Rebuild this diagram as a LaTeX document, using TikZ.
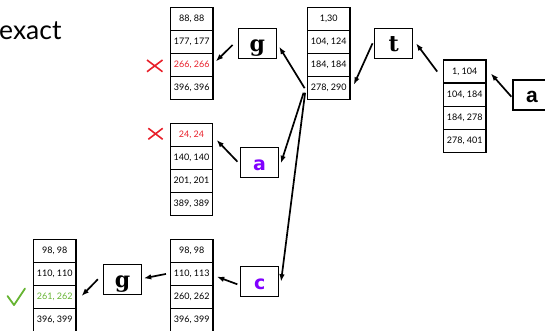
\documentclass[tikz,border=0pt]{standalone}
\usepackage{fontspec}
\setmainfont{Lato}
\newfontfamily\serifbf{DejaVu Serif}
\newfontfamily\dvsans{DejaVu Sans}
\newfontfamily\libsans{Liberation Sans}
\usetikzlibrary{arrows.meta}
\definecolor{xred}{RGB}{232,32,42}
\definecolor{xgreen}{RGB}{102,180,50}
\definecolor{xpurple}{RGB}{128,0,255}
% #1 prefix, #2 left x, #3 top y, #4-#7 entries
\newcommand\mktable[7]{%
  \node[cell] (#1r1) at ({#2+21.2},{#3+11.55}) {#4};
  \node[cell] (#1r2) at ({#2+21.2},{#3+34.65}) {#5};
  \node[cell] (#1r3) at ({#2+21.2},{#3+57.75}) {#6};
  \node[cell] (#1r4) at ({#2+21.2},{#3+80.85}) {#7};
}
\begin{document}
\begin{tikzpicture}[x=1pt,y=-1pt,
  cell/.style={draw, line width=1.2pt, minimum width=42.4pt, minimum height=23.1pt,
    inner sep=0pt, font=\fontsize{9}{10}\selectfont},
  letter/.style={draw, line width=1.3pt, minimum width=38pt, minimum height=30pt,
    inner sep=0pt, text height=18pt, text depth=2pt},
  arr/.style={line width=1.7pt, -{Latex[length=7.5pt,width=5.5pt]}},
  cross/.style={xred, line width=1.6pt},
  ]
\useasboundingbox (0,0) rectangle (545,331);

\node[anchor=base west, inner sep=0pt, font=\fontsize{26.5}{30}\selectfont] (title) at (-1,40) {exact};

% tables
\mktable{T1}{170.5}{7.3}{88, 88}{177, 177}{\textcolor{xred}{266, 266}}{396, 396}
\mktable{T2}{307.5}{7.3}{1,30}{104, 124}{184, 184}{278, 290}
\mktable{T3}{443.5}{60}{1, 104}{104, 184}{184, 278}{278, 401}
\mktable{T4}{170.3}{123.3}{\textcolor{xred}{24, 24}}{140, 140}{201, 201}{389, 389}
\mktable{T5}{170.5}{239.3}{98, 98}{110, 113}{260, 262}{396, 399}
\mktable{T6}{33.5}{239.3}{98, 98}{110, 110}{\textcolor{xgreen}{261, 262}}{396, 399}

% letter boxes
\node[letter, font=\serifbf\bfseries\fontsize{22}{24}\selectfont] (g1) at (257.2,43.3) {g};
\node[letter, font=\serifbf\bfseries\fontsize{22}{24}\selectfont] (t) at (393.7,43.3) {t};
\node[letter, font=\libsans\bfseries\fontsize{21}{24}\selectfont] (aR) at (532,95) {a};
\node[letter, font=\dvsans\bfseries\fontsize{19}{22}\selectfont, text=xpurple] (aP) at (259.5,162.7) {a};
\node[letter, font=\dvsans\bfseries\fontsize{19}{22}\selectfont, text=xpurple] (c) at (259.7,281.7) {c};
\node[letter, font=\serifbf\bfseries\fontsize{22}{24}\selectfont] (g2) at (122.5,279.3) {g};

% arrows
\draw[arr] ([xshift=-1pt,yshift=-1.7pt]aR.west) -- ([xshift=4.3pt,yshift=-1.9pt]T3r1.east);
\draw[arr] ([xshift=-5.7pt]T3r1.west) -- ([xshift=2.7pt]t.east);
\draw[arr] ([xshift=-1.5pt]t.west) -- ([xshift=3.3pt,yshift=3.4pt]T2r4.east);
\draw[arr] ([xshift=-2.3pt]T2r4.west) -- ([xshift=2.3pt,yshift=-3.4pt]g1.east);
\draw[arr] ([xshift=-5pt,yshift=-1.7pt]g1.west) -- ([xshift=2.3pt,yshift=3.6pt]T1r3.east);
\draw[arr] ([xshift=-3.3pt,yshift=-4.6pt]T2r4.west) -- ([xshift=1.7pt,yshift=-0.6pt]aP.east);
\draw[arr] ([xshift=-1.8pt,yshift=-4.6pt]T2r4.west) -- ([xshift=1.7pt]c.east);
\draw[arr] ([xshift=-2.4pt,yshift=1pt]aP.west) -- ([xshift=3.3pt,yshift=-5.1pt]T4r1.east);
\draw[arr] ([xshift=-2.7pt,yshift=-2.6pt]c.west) -- ([xshift=3.3pt,yshift=-2.7pt]T5r2.east);
\draw[arr] ([xshift=-4pt]T5r2.west) -- ([xshift=1.6pt,yshift=1pt]g2.east);
\draw[arr] ([xshift=-5pt]g2.west) -- ([xshift=5pt,yshift=1pt]T6r3.east);

% marks
\draw[cross] (147,60) -- (162.5,71.7) (147,71.7) -- (162.5,60);
\draw[cross] (148.3,128.3) -- (162.7,139.3) (148.3,139.3) -- (162.7,128.3);
\draw[xgreen, line width=1.8pt, line cap=round, line join=round] (7.5,296) -- (14,305) -- (25,288.5);
\end{tikzpicture}
\end{document}
